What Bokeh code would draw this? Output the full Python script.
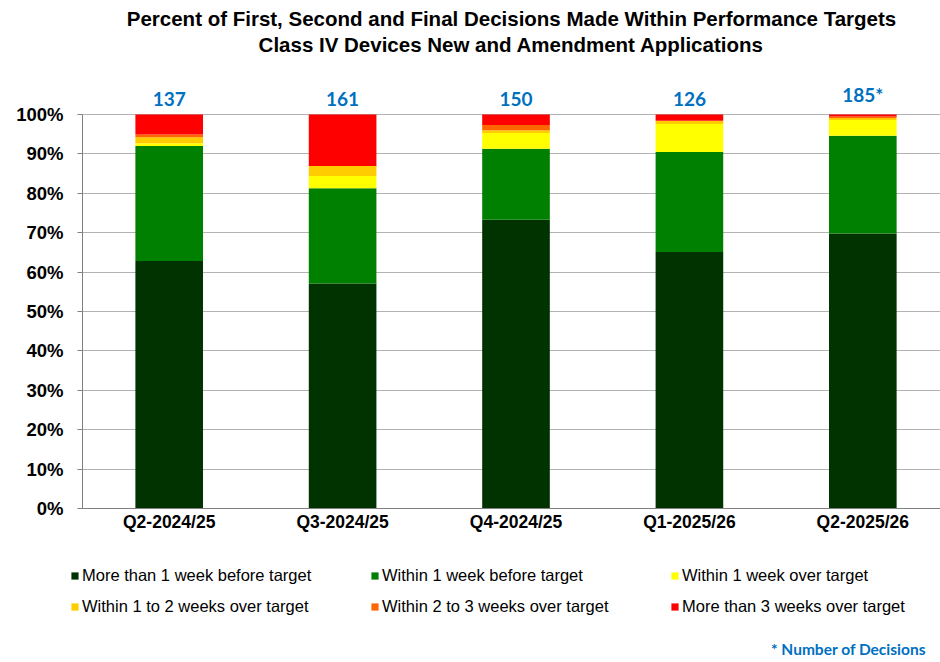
import numpy as np
from bokeh.plotting import figure
from bokeh.layouts import column
from bokeh.models import ColumnDataSource, Range1d, FixedTicker, Legend, LegendItem, Title
from bokeh.core.properties import value
from bokeh.embed import file_html
from bokeh.resources import INLINE

# ---- data (percent of decisions) ----
categories = ["Q2-2024/25", "Q3-2024/25", "Q4-2024/25", "Q1-2025/26", "Q2-2025/26"]
decision_counts = ["137", "161", "150", "126", "185*"]
series_names = [
    "More than 1 week before target",
    "Within 1 week before target",
    "Within 1 week over target",
    "Within 1 to 2 weeks over target",
    "Within 2 to 3 weeks over target",
    "More than 3 weeks over target",
]
more_than_1wk_before = [62.8, 57.1, 73.3, 65.1, 69.8]
within_1wk_before = [29.2, 24.2, 18.0, 25.4, 24.8]
within_1wk_over = [0.7, 3.1, 4.0, 7.1, 4.0]
within_1_2wk_over = [1.5, 2.5, 0.7, 0.8, 0.5]
within_2_3wk_over = [0.7, 0.0, 1.3, 0.0, 0.4]
more_than_3wk_over = [5.1, 13.1, 2.7, 1.6, 0.5]
y_ticks = [0, 10, 20, 30, 40, 50, 60, 70, 80, 90, 100]
y_tick_labels = ["0%", "10%", "20%", "30%", "40%", "50%", "60%", "70%", "80%", "90%", "100%"]
footnote = "* Number of Decisions"

colors = ["#003300", "#008000", "#FFFF00", "#FFCC00", "#FF6600", "#FF0000"]
keys = ["s0", "s1", "s2", "s3", "s4", "s5"]
series = [more_than_1wk_before, within_1wk_before, within_1wk_over,
          within_1_2wk_over, within_2_3wk_over, more_than_3wk_over]

x = np.arange(len(categories)) + 0.5
data = {"x": x, "label": decision_counts}
for k, s in zip(keys, series):
    data[k] = s
data["top"] = np.sum(np.array(series), axis=0)
src = ColumnDataSource(data)

# ---------------- main chart ----------------
y_end = 114.97
p = figure(frame_width=858, frame_height=453, output_backend="svg", toolbar_location=None,
           x_range=Range1d(0, 4.948), y_range=Range1d(0, y_end),
           min_border_left=0, min_border_right=0, min_border_top=0,
           min_border_bottom=0)
p.outline_line_color = None

p.vbar_stack(keys, x="x", width=0.39, color=colors, line_color=None, source=src)

p.text(x="x", y="top", text="label", source=src, text_align="center", text_baseline="bottom",
       y_offset=-8, text_font=value("Lato"), text_font_style="bold", text_font_size="19px",
       text_color="#0070C0")

p.xaxis.ticker = FixedTicker(ticks=list(x))
p.xaxis.major_label_overrides = {float(v): c for v, c in zip(x, categories)}
p.xaxis.major_tick_line_color = None
p.xaxis.major_tick_out = 0
p.xaxis.major_tick_in = 0
p.xaxis.minor_tick_line_color = None
p.xaxis.axis_line_color = "#808080"
p.xaxis.major_label_text_font = "Liberation Sans"
p.xaxis.major_label_text_font_style = "bold"
p.xaxis.major_label_text_font_size = "17.5px"
p.xaxis.major_label_text_color = "#000000"
p.xaxis.major_label_standoff = 3

p.yaxis.ticker = FixedTicker(ticks=y_ticks)
p.yaxis.major_label_overrides = {t: l for t, l in zip(y_ticks, y_tick_labels)}
p.yaxis.bounds = (0, 100)
p.yaxis.minor_tick_line_color = None
p.yaxis.axis_line_color = "#808080"
p.yaxis.major_tick_line_color = "#808080"
p.yaxis.major_tick_in = 0
p.yaxis.major_tick_out = 5
p.yaxis.major_label_standoff = 14
p.yaxis.major_label_text_font = "Liberation Sans"
p.yaxis.major_label_text_font_style = "bold"
p.yaxis.major_label_text_font_size = "18.5px"
p.yaxis.major_label_text_color = "#000000"
p.yaxis.axis_label = " "
p.yaxis.axis_label_text_font_size = "6px"
p.yaxis.axis_label_standoff = 4

p.xgrid.grid_line_color = None
p.ygrid.ticker = FixedTicker(ticks=y_ticks)
p.ygrid.grid_line_color = "#b3b3b3"

t2 = Title(text="Class IV Devices New and Amendment Applications", align="center",
           text_font="Liberation Sans", text_font_style="bold", text_font_size="20.5px",
           text_color="#000000", text_line_height=1.0, standoff=0)
t1 = Title(text="Percent of First, Second and Final Decisions Made Within Performance Targets",
           align="center", text_font="Liberation Sans", text_font_style="bold",
           text_font_size="20.5px", text_color="#000000", text_line_height=1.0, standoff=2)
top_pad = Title(text=" ", text_font_size="1px", standoff=0)
p.add_layout(t2, "above")
p.add_layout(t1, "above")
p.add_layout(top_pad, "above")

# ---------------- legend strip ----------------
p2 = figure(frame_width=932, frame_height=124, output_backend="svg", toolbar_location=None,
            x_range=Range1d(0, 1), y_range=Range1d(0, 1),
            x_axis_type=None, y_axis_type=None,
            min_border_left=0, min_border_right=0, min_border_top=0, min_border_bottom=0)
p2.outline_line_color = None
p2.grid.grid_line_color = None

# zero-width proxy bars: they only supply the legend swatches
proxies = [p2.vbar(x=x, top=s, width=0, fill_color=c, line_color=None)
           for s, c in zip(series, colors)]
items = [LegendItem(label=n, renderers=[r]) for n, r in zip(series_names, proxies)]
for row, ypos in ((items[:3], 73), (items[3:], 42)):
    lg = Legend(items=row, orientation="horizontal", location=(70, ypos),
                label_text_font="Liberation Sans", label_text_font_size="16.5px",
                label_text_color="#000000",
                glyph_width=9, glyph_height=9, label_standoff=3, label_width=279,
                label_height=20, spacing=9, padding=0, margin=0,
                border_line_color=None, background_fill_alpha=0)
    p2.add_layout(lg, "center")

# footnote, drawn as a swatch-less legend entry
note_proxy = p2.vbar(x=x, top=more_than_1wk_before, width=0, fill_alpha=0, line_color=None)
note = Legend(items=[LegendItem(label=footnote, renderers=[note_proxy])], location=(770, 0),
              label_text_font="Lato", label_text_font_style="bold",
              label_text_font_size="15.5px", label_text_color="#0070C0",
              glyph_width=1, glyph_height=1, label_standoff=0, label_height=12,
              padding=0, margin=0, border_line_color=None, background_fill_alpha=0)
p2.add_layout(note, "center")

layout = column(p, p2, spacing=0)
open("out.html", "w").write(file_html(layout, INLINE))
